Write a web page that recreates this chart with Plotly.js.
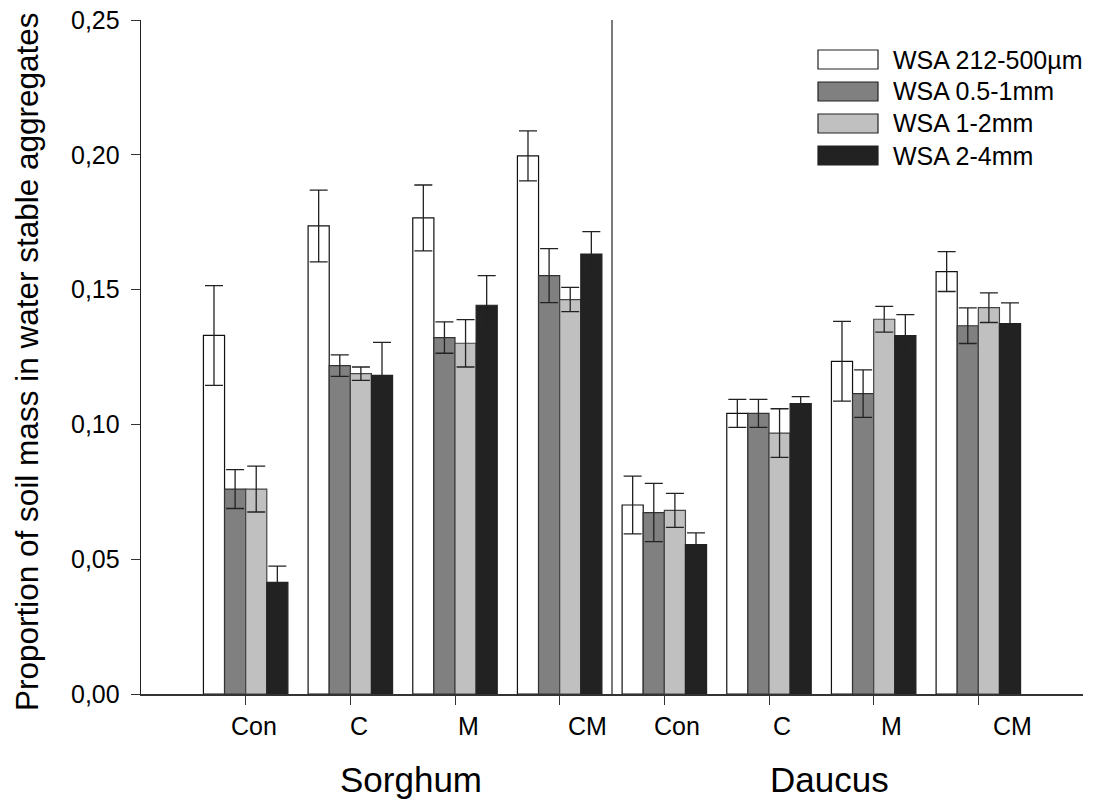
<!DOCTYPE html>
<html>
<head>
<meta charset="utf-8">
<script src="https://cdn.plot.ly/plotly-3.0.1.min.js"></script>
<style>html,body{margin:0;padding:0;background:#fff;}#chart{width:1097px;height:802px;}</style>
</head>
<body>
<div id="chart"></div>
<script>
// ---- data ----
const plants = ['Sorghum', 'Daucus'];
const treatments = ['Con', 'C', 'M', 'CM'];
const seriesNames = ['WSA 212-500µm', 'WSA 0.5-1mm', 'WSA 1-2mm', 'WSA 2-4mm'];

const wsa212_500 = [0.1330, 0.1736, 0.1766, 0.1996, 0.0701, 0.1041, 0.1234, 0.1567];
const wsa212_500Err = [0.0185, 0.0133, 0.0122, 0.0093, 0.0107, 0.0052, 0.0148, 0.0074];

const wsa05_1 = [0.0760, 0.1218, 0.1322, 0.1552, 0.0673, 0.1041, 0.1114, 0.1366];
const wsa05_1Err = [0.0072, 0.0040, 0.0058, 0.0100, 0.0108, 0.0052, 0.0088, 0.0066];

const wsa1_2 = [0.0760, 0.1188, 0.1301, 0.1463, 0.0681, 0.0968, 0.1390, 0.1433];
const wsa1_2Err = [0.0085, 0.0025, 0.0088, 0.0045, 0.0063, 0.0090, 0.0048, 0.0055];

const wsa2_4 = [0.0414, 0.1182, 0.1442, 0.1632, 0.0554, 0.1077, 0.1329, 0.1374];
const wsa2_4Err = [0.0060, 0.0122, 0.0110, 0.0083, 0.0044, 0.0026, 0.0078, 0.0077];

// ---- build ----
const catLabels = [];
plants.forEach(() => treatments.forEach(t => catLabels.push(t)));
const xs = catLabels.map((_, i) => i);

const values = [wsa212_500, wsa05_1, wsa1_2, wsa2_4];
const errors = [wsa212_500Err, wsa05_1Err, wsa1_2Err, wsa2_4Err];
const fills = ['#ffffff', '#808080', '#c0c0c0', '#222222'];
const outlines = ['#111111', '#333333', '#444444', '#222222'];

const FONT = 'Liberation Sans, Arial, Helvetica, sans-serif';

const traces = values.map((v, k) => ({
  type: 'bar',
  name: seriesNames[k],
  x: xs,
  y: v,
  marker: {color: fills[k], line: {color: outlines[k], width: 1.2}},
  error_y: {type: 'data', array: errors[k], visible: true, color: '#222222', thickness: 1.3, width: 9},
  showlegend: false,
  hoverinfo: 'y'
}));

// layout constants (pixels)
const L = 141, R = 1083, T = 20, B = 694;
const W = R - L, H = B - T;
const px2x = p => (p - L) / W;
const py2y = p => (B - p) / H;

const labelShift = [8, 9, 13, 28, 13, 13, 18, 34];

const annotations = [];
catLabels.forEach((lab, i) => {
  annotations.push({
    x: xs[i], xref: 'x', xshift: labelShift[i],
    y: py2y(726), yref: 'paper',
    text: lab, showarrow: false, xanchor: 'center', yanchor: 'middle',
    font: {family: FONT, size: 25, color: '#000'}
  });
});
plants.forEach((p, g) => {
  const mid = g * treatments.length + (treatments.length - 1) / 2;
  annotations.push({
    x: mid, xref: 'x', xshift: 8,
    y: py2y(779), yref: 'paper',
    text: p, showarrow: false, xanchor: 'center', yanchor: 'middle',
    font: {family: FONT, size: 35, color: '#000'}
  });
});
annotations.push({
  x: px2x(27), xref: 'paper', y: py2y(362), yref: 'paper',
  text: 'Proportion of soil mass in water stable aggregates',
  textangle: -90, showarrow: false, xanchor: 'center', yanchor: 'middle',
  font: {family: FONT, size: 31.5, color: '#000'}
});

const shapes = [{
  type: 'line', xref: 'x', yref: 'paper',
  x0: treatments.length - 0.5, x1: treatments.length - 0.5, y0: 0, y1: 1,
  line: {color: '#333333', width: 1.3}
}];

// manual legend
const legX0 = 818, legX1 = 878, legY0 = 50, legBoxH = 19, legStep = 32;
seriesNames.forEach((nm, k) => {
  const top = legY0 + k * legStep;
  shapes.push({
    type: 'rect', xref: 'paper', yref: 'paper',
    x0: px2x(legX0), x1: px2x(legX1), y0: py2y(top + legBoxH), y1: py2y(top),
    fillcolor: fills[k], line: {color: '#222222', width: 1.2}
  });
  annotations.push({
    x: px2x(891), xref: 'paper', y: py2y(top + legBoxH / 2), yref: 'paper',
    text: nm, showarrow: false, xanchor: 'left', yanchor: 'middle',
    font: {family: FONT, size: 25, color: '#000'}
  });
});

const layout = {
  width: 1097, height: 802,
  margin: {l: L, r: 1097 - R, t: T, b: 802 - B, pad: 0},
  paper_bgcolor: '#ffffff', plot_bgcolor: '#ffffff',
  separators: ',.',
  barmode: 'group', bargap: 0.193, bargroupgap: 0,
  showlegend: false,
  font: {family: FONT, color: '#000'},
  xaxis: {
    type: 'linear', range: [-1, 8], tickvals: xs, ticks: 'outside', ticklen: 9,
    tickcolor: '#333', tickwidth: 1, showticklabels: false,
    showline: true, linecolor: '#333333', linewidth: 1.5,
    showgrid: false, zeroline: false, fixedrange: true
  },
  yaxis: {
    range: [0, 0.25], tickvals: [0, 0.05, 0.10, 0.15, 0.20, 0.25], tickformat: '.2f',
    ticks: 'outside', ticklen: 9, tickcolor: '#333', tickwidth: 1,
    ticklabelstandoff: 6,
    tickfont: {family: FONT, size: 25, color: '#000'},
    showline: true, linecolor: '#222222', linewidth: 1.3,
    showgrid: false, zeroline: false, fixedrange: true
  },
  annotations: annotations,
  shapes: shapes
};

Plotly.newPlot('chart', traces, layout, {staticPlot: true, displayModeBar: false});
</script>
</body>
</html>
